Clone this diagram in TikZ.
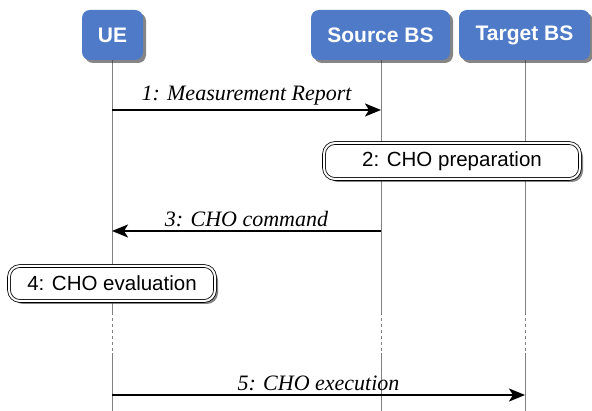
\documentclass[tikz,border=0pt]{standalone}
\usepackage{fontspec}
\setmainfont{Liberation Sans}
\newfontfamily\msgfont{Liberation Serif}
\definecolor{headblue}{HTML}{4F7AC7}
\usetikzlibrary{arrows.meta, shadows, positioning}

\begin{document}
\begin{tikzpicture}[x=1pt, y=1pt, >={Stealth[length=16pt,width=13pt,inset=4pt]},
    head/.style={fill=headblue, rounded corners=8pt, minimum height=50pt,
        text=white, font=\bfseries\fontsize{21}{24}\selectfont,
        drop shadow={shadow xshift=3pt, shadow yshift=-3pt, fill=black!80, opacity=0.6}},
    note/.style={draw, double, double distance=2pt, line width=0.8pt, fill=white,
        rounded corners=11pt, font=\fontsize{20.5}{24}\selectfont,
        drop shadow={shadow xshift=3pt, shadow yshift=-3pt, fill=black!80, opacity=0.6}},
    life/.style={draw=black!50, line width=1pt},
    gap/.style={life, dash pattern=on 3pt off 3pt},
    msg/.style={->, line width=2.2pt},
    lbl/.style={above=0pt, midway, font=\msgfont\itshape\fontsize{22}{24}\selectfont}]
    \useasboundingbox (0,0) rectangle (592,-411);

    % 1. Lifelines
    \coordinate (ueA) at (112,-312);  \coordinate (ueB) at (112,-353);  \coordinate (ueE) at (112,-411);
    \coordinate (srcA) at (381,-312); \coordinate (srcB) at (381,-353); \coordinate (srcE) at (381,-411);
    \coordinate (tgtA) at (525,-312); \coordinate (tgtB) at (525,-353); \coordinate (tgtE) at (525,-411);
    \draw[life] (112,-60) -- (ueA);
    \draw[gap] (ueA) -- (ueB);
    \draw[life] (ueB) -- (ueE);
    \draw[life] (381,-60) -- (srcA);
    \draw[gap] (srcA) -- (srcB);
    \draw[life] (srcB) -- (srcE);
    \draw[life] (525,-60) -- (tgtA);
    \draw[gap] (tgtA) -- (tgtB);
    \draw[life] (tgtB) -- (tgtE);

    % 2. Header boxes
    \node[head, minimum width=61pt] (ue) at (112.5,-35) {UE};
    \node[head, minimum width=139pt] (src) at (380.5,-35) {Source BS};
    \node[head, minimum width=131pt] (tgt) at (524.5,-35) {Target BS};

    % 3. Messages
    \coordinate (ue1) at (112,-110);  \coordinate (src1) at (381,-110);
    \draw[msg] (ue1) -- (src1) node[lbl] {1: Measurement Report};

    \node[note, minimum width=256pt, minimum height=36pt] (prep) at (452,-161) {2: CHO preparation};

    \coordinate (src3) at (381,-231); \coordinate (ue3) at (112,-231);
    \draw[msg] (src3) -- (ue3) node[lbl] {3: CHO command};

    \node[note, minimum width=206pt, minimum height=35pt] (eval) at (112,-283.5) {4: CHO evaluation};

    \coordinate (ue5) at (112,-395);  \coordinate (tgt5) at (525,-395);
    \draw[msg] (ue5) -- (tgt5) node[lbl] {5: CHO execution};
\end{tikzpicture}
\end{document}
